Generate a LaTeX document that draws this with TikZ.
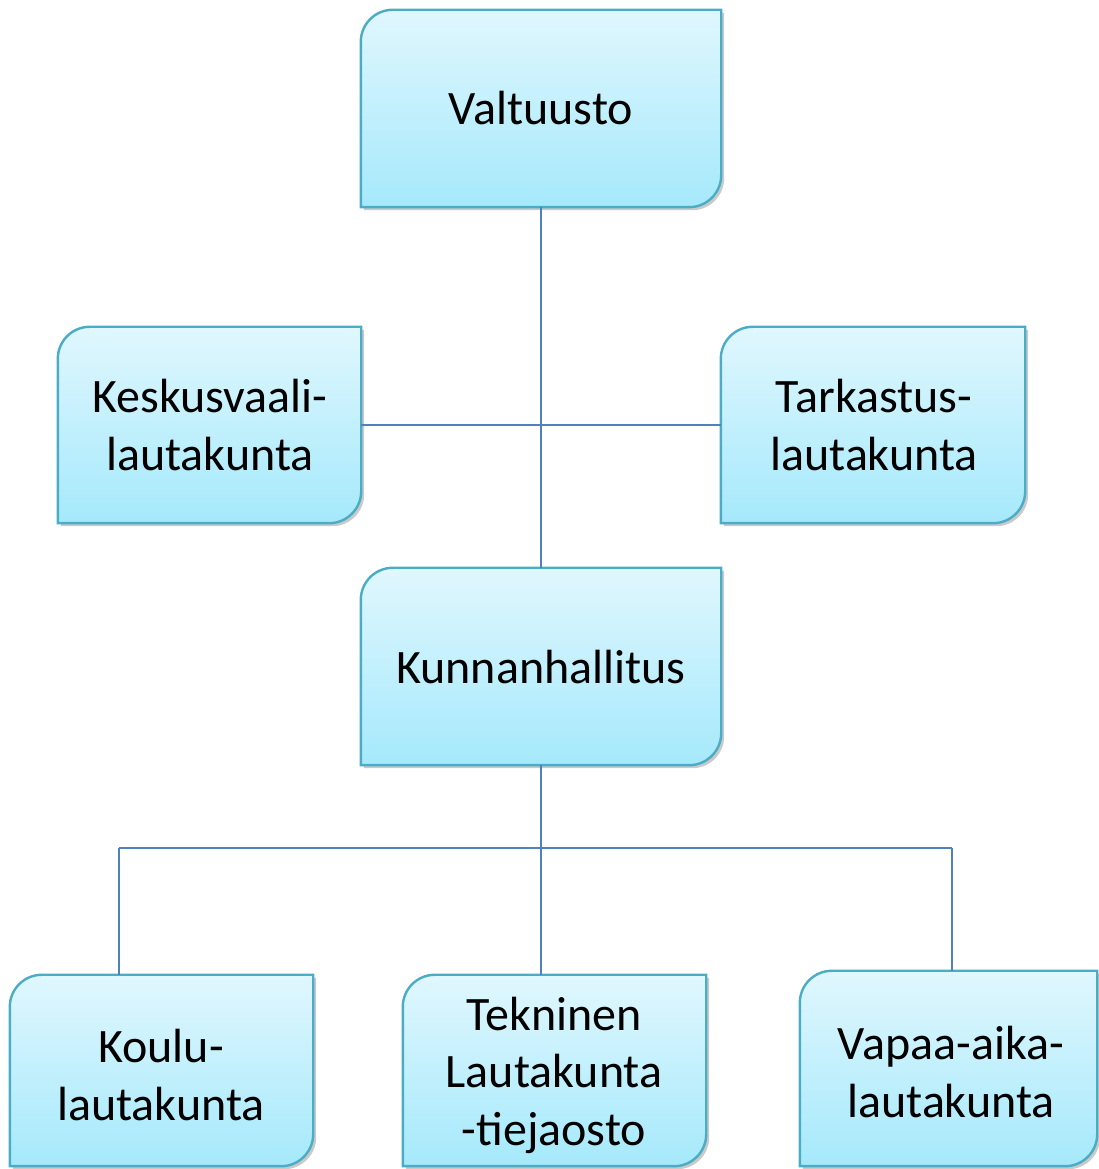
\documentclass[tikz,border=0pt]{standalone}
\usepackage{fontspec}
\setmainfont{Carlito}
\usetikzlibrary{backgrounds,shadows}
\definecolor{boxtop}{RGB}{224,247,254}
\definecolor{boxbot}{RGB}{165,233,251}
\definecolor{boxedge}{RGB}{75,172,198}
\definecolor{linkcol}{RGB}{79,129,189}
\tikzset{
  orgbox/.style={draw=none,inner sep=0pt,align=center,font=\fontsize{48}{57.5}\selectfont},
  boxshape/.style={draw=boxedge,line width=2.4pt,top color=boxtop,bottom color=boxbot,
    drop shadow={shadow xshift=3pt,shadow yshift=-3pt,opacity=0.35,fill=black!60}},
  link/.style={draw=linkcol,line width=2pt}
}
\newcommand\orgshape[1]{%
  \path[boxshape] ([yshift=-32pt]#1.north west) arc[start angle=180,end angle=90,radius=32pt]
    -- (#1.north east) -- ([yshift=32pt]#1.south east) arc[start angle=0,end angle=-90,radius=32pt]
    -- (#1.south west) -- cycle;}
\begin{document}
\begin{tikzpicture}[x=1pt,y=1pt]
\useasboundingbox (0,0) rectangle (1098,1169);
\node[orgbox,minimum width=360pt,minimum height=197pt] (valt) at (541,1060.5) {};
\node[orgbox,minimum width=303pt,minimum height=196pt] (kesk) at (209.5,744) {};
\node[orgbox,minimum width=304pt,minimum height=196pt] (tark) at (873,744) {};
\node[orgbox,minimum width=360pt,minimum height=197pt] (kunn) at (541,502.5) {};
\node[orgbox,minimum width=303pt,minimum height=191pt] (koul) at (161.5,98.5) {};
\node[orgbox,minimum width=303pt,minimum height=191pt] (tekn) at (554.5,98.5) {};
\node[orgbox,minimum width=297pt,minimum height=195pt] (vapa) at (948.5,100.5) {};
\begin{scope}[on background layer]
  \orgshape{valt}\orgshape{kesk}\orgshape{tark}\orgshape{kunn}
  \orgshape{koul}\orgshape{tekn}\orgshape{vapa}
\end{scope}
% texts
\node[orgbox] (tvalt) at (541,1061) {Valtuusto};
\node[orgbox] (tkesk) at (210,744) {Keskusvaali-\\lautakunta};
\node[orgbox] (ttark) at (874,744) {Tarkastus-\\lautakunta};
\node[orgbox] (tkunn) at (541,502) {Kunnanhallitus};
\node[orgbox] (tkoul) at (161,94) {Koulu-\\lautakunta};
\node[orgbox] (ttekn) at (554,94) {Tekninen\\Lautakunta\\-tiejaosto};
\node[orgbox] (tvapa) at (951,97) {Vapaa-aika-\\lautakunta};
% connectors
\draw[link] (valt.south) -- (kunn.north);
\draw[link] (kesk.east) -- (tark.west);
\draw[link] (kunn.south) -- (kunn.south |- tekn.north);
\coordinate (bl) at (119,321);
\coordinate (br) at (952,321);
\draw[link] (bl) -- (br);
\draw[link] (bl) -- (bl |- koul.north);
\draw[link] (br) -- (br |- vapa.north);
\end{tikzpicture}
\end{document}
